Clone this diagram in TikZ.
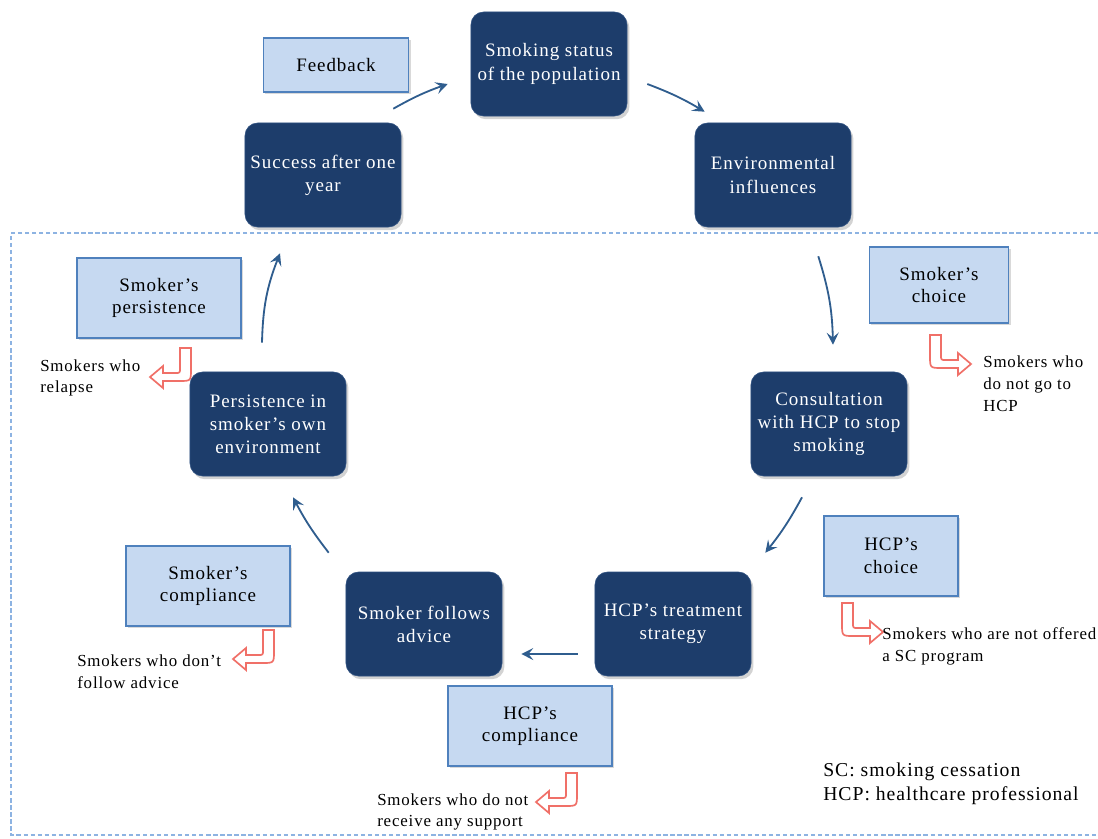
\documentclass[tikz,border=0pt]{standalone}
\usepackage{fontspec}
\setmainfont[LetterSpace=5]{Liberation Serif}
\usepackage{tikz}
\usetikzlibrary{positioning,arrows.meta,shadows,calc}
\definecolor{navy}{HTML}{1D3D6B}
\definecolor{navyedge}{HTML}{2C4F80}
\definecolor{pale}{HTML}{C6D9F1}
\definecolor{paleedge}{HTML}{4F81BD}
\definecolor{flowblue}{HTML}{2F5D8E}
\definecolor{hookred}{HTML}{F07068}
\definecolor{dashblue}{HTML}{8DB3E2}
\tikzset{
  stage/.style={rectangle,draw=navyedge,fill=navy,rounded corners=9pt,
    text=white,align=center,font=\fontsize{13.5}{16.5}\selectfont,
    minimum width=3.9cm,minimum height=2.6cm,inner sep=2pt,
    drop shadow={opacity=0.35,shadow xshift=0.6mm,shadow yshift=-0.8mm}},
  note/.style={rectangle,draw=paleedge,line width=0.9pt,fill=pale,
    align=center,font=\fontsize{13.5}{16}\selectfont,minimum height=2cm,
    inner sep=2pt,drop shadow={opacity=0.3,shadow xshift=0.5mm,shadow yshift=-0.6mm}},
  fl/.style={-{Stealth[length=3mm,width=3mm,inset=1.2mm]},draw=flowblue,line width=1.3pt},
  lbl/.style={anchor=west,align=left,inner sep=0pt,font=\fontsize{12}{15.5}\selectfont},
  hook/.pic={
    \draw[hookred,line width=1.2pt,fill=white] (0,0) -- (0,21)
      .. controls (0,33) .. (12,33) -- (28,33) -- (28,40) -- (41,29)
      -- (28,18) -- (28,25) -- (16,25) .. controls (11,25) .. (11,20)
      -- (11,0) -- cycle;
  },
}
\begin{document}
\begin{tikzpicture}[x=0.025cm,y=-0.025cm]
  \useasboundingbox (0,0) rectangle (1098,838);
  % frame round the care part
  \draw[dashblue,line width=1.3pt,dash pattern=on 3pt off 2pt]
    (1098,233) -- (11,233) -- (11,835) -- (1098,835);

  % stages
  \node[stage] (status) at (549,64) {Smoking status\\of the population};
  \node[stage] (env) at (773,175) {Environmental\\influences};
  \node[stage] (success) at (323,175) {Success after one\\year};
  \node[stage] (consult) at (829,424) {Consultation\\with HCP to stop\\smoking};
  \node[stage] (treat) at (673,624) {HCP’s treatment\\strategy};
  \node[stage] (follow) at (424,624) {Smoker follows\\advice};
  \node[stage] (persist) at (268,424) {Persistence in\\smoker’s own\\environment};

  % factors
  \node[note,minimum width=3.625cm,minimum height=1.35cm] (feedback) at (336,65) {Feedback};
  \node[note,minimum width=3.475cm,minimum height=1.9cm] (schoice) at (939,285) {Smoker’s\\choice};
  \node[note,minimum width=4.1cm] (spersist) at (159,298) {Smoker’s\\persistence};
  \node[note,minimum width=3.35cm] (hchoice) at (891,556) {HCP’s\\choice};
  \node[note,minimum width=4.1cm] (scompl) at (208,586) {Smoker’s\\compliance};
  \node[note,minimum width=4.1cm] (hcompl) at (530,726) {HCP’s\\compliance};

  % drop-outs
  \pic at (930,335) {hook};
  \pic[xscale=-1] at (191,348) {hook};
  \pic at (842,603) {hook};
  \pic[xscale=-1] at (274,630) {hook};
  \pic[xscale=-1] at (577,773) {hook};
  \node[lbl] (outchoice) at (983,384) {Smokers who\\do not go to\\HCP};
  \node[lbl] (outrelapse) at (40,378) {Smokers who\\relapse};
  \node[lbl] (outoffer) at (882,646) {Smokers who are not offered\\a SC program};
  \node[lbl] (outadvice) at (77,672) {Smokers who don’t\\follow advice};
  \node[lbl] (outsupport) at (377,812) {Smokers who do not\\receive any support};
  \node[lbl,font=\fontsize{14}{17}\selectfont] (legend) at (823,784)
    {SC: smoking cessation\\HCP: healthcare professional};

  % cycle
  \draw[fl] ([shift={(-8,-14)}]success.north east) to[bend left=5] ([shift={(-23,20)}]status.west);
  \draw[fl] ([shift={(20,20)}]status.east) to[bend left=5] ([shift={(10,-11)}]env.north west);
  \draw[fl] ([shift={(-33,29)}]env.south east) to[bend left=8] ([shift={(4,-27)}]consult.north);
  \draw[fl] ([shift={(-27,21)}]consult.south) to[bend left=5] ([shift={(14,-19)}]treat.north east);
  \draw[fl] ([shift={(-17,30)}]treat.west) -- ([shift={(19,30)}]follow.east);
  \draw[fl] ([shift={(-17,-19)}]follow.north west) to[bend left=5] ([shift={(25,21)}]persist.south);
  \draw[fl] ([shift={(-6,-29)}]persist.north) to[bend left=10] ([shift={(-43,26)}]success.south);
\end{tikzpicture}
\end{document}
